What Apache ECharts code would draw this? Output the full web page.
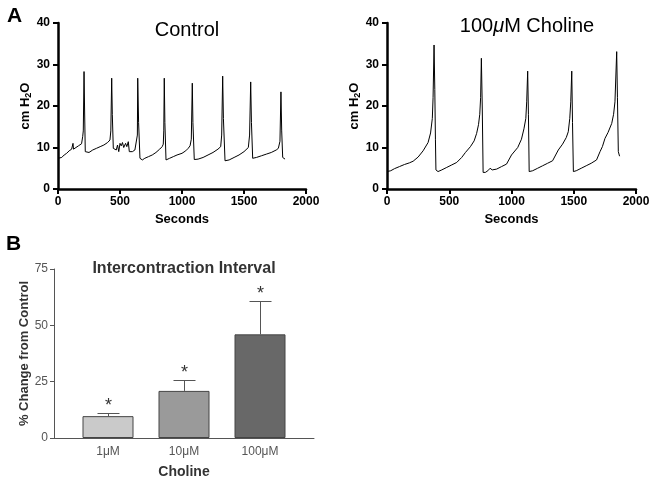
<!DOCTYPE html>
<html>
<head>
<meta charset="utf-8">
<script src="https://cdn.jsdelivr.net/npm/echarts@6/dist/echarts.min.js"></script>
<style>
html,body{margin:0;padding:0;background:#fff;}
#main{width:654px;height:482px;}
</style>
</head>
<body>
<div id="main"></div>
<script>
//=================================================================================
// A: bladder pressure traces (seconds, cm H2O)
var ctrlTime = [0,15,30,50,70,90,110,118,121,125,145,165,180,190,199,204,210,214,220,226,
	250,280,310,340,370,400,419,426,433,438,446,460,470,480,490,500,510,520,530,545,555,567,575,
	600,620,635,640,643,650,661,680,700,730,760,790,820,840,849,853,857,862,871,900,930,960,1000,
	1030,1050,1065,1075,1083,1088,1099,1130,1170,1210,1250,1290,1312,1320,1328,1334,1347,1380,1420,
	1460,1500,1535,1545,1554,1560,1570,1600,1640,1680,1720,1760,1777,1790,1798,1804,1812,1831];
var ctrlPressure = [7.4,7.8,7.6,8.2,8.6,9.2,9.6,9.4,11.0,9.6,10.0,10.4,10.6,10.9,12.6,14,28.3,20,9.0,8.6,
	8.8,9.4,9.8,10.2,10.6,11.2,11.8,14,26.7,18,9.8,10.2,9.4,10.6,9.0,11.0,10.4,11.2,10.0,11.0,10.2,11.4,9.0,
	9.0,9.4,9.2,13,26.7,16,7.4,7.0,7.4,7.8,8.2,8.8,9.6,10.2,10.8,14,26.7,16,7.0,7.4,7.8,8.2,8.6,
	9.2,9.8,10.4,12,25.5,16,7.1,7.2,7.6,8.2,8.8,9.6,10.2,13,27.2,17,6.8,7.0,7.6,
	8.2,9.0,10.0,13,25.8,16,7.4,7.6,8.0,8.4,8.8,9.4,9.8,11.5,23.4,14,7.6,7.2];

var cholTime = [0,30,60,100,140,180,210,250,290,330,350,364,370,378,384,389,393,410,440,480,520,560,
	600,630,670,700,720,735,745,752,758,765,772,790,810,828,845,881,920,960,1000,1050,1080,1100,1115,
	1122,1130,1136,1142,1170,1210,1250,1290,1330,1376,1410,1440,1456,1468,1476,1484,1490,1497,1520,1560,
	1600,1640,1683,1711,1730,1751,1775,1805,1820,1831,1845,1851,1858,1868];
var cholPressure = [4.2,4.4,4.9,5.4,5.9,6.3,6.7,7.7,9.2,11.2,13.5,17,22,34.7,24,12,4.6,4.2,4.6,5.2,5.8,6.4,
	7.6,8.8,10.2,11.6,13.4,15.5,18,22,31.5,20,4.0,4.0,4.4,5.0,4.6,4.8,5.4,6.0,8.2,10.0,12,14.5,17,
	21,28.4,18,4.2,4.4,5.0,5.6,6.2,6.8,9.4,10.8,12.4,13.8,17,21,28.4,16,4.2,4.4,5.0,
	5.6,6.2,7.0,9.0,10.2,12.2,13.6,15.8,18,21,33.1,22,9,7.9];

var secTicks = [0, 500, 1000, 1500, 2000];

// B: intercontraction interval, % change from control
var doses = ['1\u03bcM', '10\u03bcM', '100\u03bcM'];
var pctChange = [9.7, 20.9, 46.0];
var pctUpper = [11.1, 25.7, 60.7];
var barColors = ['#cacaca', '#9a9a9a', '#686868'];

//=================================================================================
function zip(a, b){
	var out = [];
	for(var i=0;i<a.length;i++){
		out.push([a[i], b[i]]);
	}
	return out;
}
function plain(v){
	return String(v);
}

var traceFont = 'Arial, "Liberation Sans", Helvetica, sans-serif';

// panel A axes (thick black, bold labels)
function secondsAxis(idx){
	return {
		type : 'value', gridIndex : idx, min : secTicks[0], max : secTicks[secTicks.length-1], interval : 500,
		name : 'Seconds', nameLocation : 'middle', nameGap : 24,
		nameTextStyle : {color:'#000', fontSize:13, fontWeight:'bold', fontFamily:traceFont},
		axisLine : {lineStyle:{color:'#000', width:2.5}},
		axisTick : {length:5, lineStyle:{color:'#000', width:2}},
		axisLabel : {color:'#000', fontSize:12, fontWeight:'bold', margin:7, fontFamily:traceFont, formatter:plain},
		splitLine : {show:false}
	};
}
function pressureAxis(idx){
	return {
		type : 'value', gridIndex : idx, min : 0, max : 40, interval : 10,
		name : 'cm H{sub|2}O', nameLocation : 'middle', nameGap : 23,
		nameTextStyle : {color:'#000', fontSize:13, fontWeight:'bold', fontFamily:traceFont,
			rich : {sub:{fontSize:9, fontWeight:'bold', color:'#000', verticalAlign:'bottom', padding:[6,0,0,0]}}},
		axisLine : {show:true, lineStyle:{color:'#000', width:2.5}},
		axisTick : {show:true, length:5, lineStyle:{color:'#000', width:2}},
		axisLabel : {color:'#000', fontSize:12, fontWeight:'bold', margin:8, fontFamily:traceFont, formatter:plain},
		splitLine : {show:false}
	};
}

var myChart = echarts.init(document.getElementById('main'));

myChart.setOption({
	animation : false,
	backgroundColor : '#fff',
	textStyle : {fontFamily:traceFont},
	title : [
		{text:'Control', left:187, top:20, textAlign:'center', padding:0,
			textStyle:{fontSize:20, fontWeight:'normal', color:'#000'}},
		{text:'100{mu|\u03bc}M Choline', left:527, top:16, textAlign:'center', padding:0,
			textStyle:{fontSize:20, fontWeight:'normal', color:'#000',
				rich:{mu:{fontSize:20, fontStyle:'italic', color:'#000'}}}},
		{text:'Intercontraction Interval', left:184, top:261, textAlign:'center', padding:0,
			textStyle:{fontSize:16, fontWeight:'bold', color:'#333'}}
	],
	graphic : [
		{type:'text', left:7, top:6, style:{text:'A', font:'bold 21px Arial, "Liberation Sans", sans-serif', fill:'#000'}},
		{type:'text', left:6, top:234, style:{text:'B', font:'bold 21px Arial, "Liberation Sans", sans-serif', fill:'#000'}}
	],
	grid : [
		{left:58, top:23, width:248, height:166},
		{left:387, top:23, width:249, height:166},
		{left:70, top:269, width:228, height:169},   // bars
		{left:54, top:269, width:260, height:169}    // B axes
	],
	xAxis : [
		secondsAxis(0),
		secondsAxis(1),
		{
			type : 'category', gridIndex : 2, data : doses,
			name : 'Choline', nameLocation : 'middle', nameGap : 27,
			nameTextStyle : {color:'#333', fontSize:14, fontWeight:'bold'},
			axisLine : {show:false}, axisTick : {show:false},
			axisLabel : {color:'#555', fontSize:12, margin:8}
		},
		{
			type : 'value', gridIndex : 3, min : 0, max : 1,
			axisLine : {lineStyle:{color:'#555', width:1}},
			axisTick : {show:false}, axisLabel : {show:false}, splitLine : {show:false}
		}
	],
	yAxis : [
		pressureAxis(0),
		pressureAxis(1),
		{type:'value', gridIndex:2, min:0, max:75, show:false},
		{
			type : 'value', gridIndex : 3, min : 0, max : 75, interval : 25,
			name : '% Change from Control', nameLocation : 'middle', nameGap : 23,
			nameTextStyle : {color:'#333', fontSize:13, fontWeight:'bold'},
			axisLine : {show:true, lineStyle:{color:'#555', width:1}},
			axisTick : {show:true, length:4, lineStyle:{color:'#555'}},
			axisLabel : {color:'#555', fontSize:12, margin:6},
			splitLine : {show:false}
		}
	],
	series : [
		{
			type : 'line', xAxisIndex : 0, yAxisIndex : 0, data : zip(ctrlTime, ctrlPressure),
			showSymbol : false, lineStyle : {color:'#000', width:1}
		},
		{
			type : 'line', xAxisIndex : 1, yAxisIndex : 1, data : zip(cholTime, cholPressure),
			showSymbol : false, lineStyle : {color:'#000', width:1}
		},
		{
			type : 'bar', xAxisIndex : 2, yAxisIndex : 2, barWidth : 51,
			data : pctChange.map(function(v, i){
				return {value:v, itemStyle:{color:barColors[i]}};
			}),
			itemStyle : {borderColor:'#444', borderWidth:1}
		},
		{
			// error bars with significance stars
			type : 'custom', xAxisIndex : 2, yAxisIndex : 2,
			data : pctChange.map(function(v, i){ return [i, v, pctUpper[i]]; }),
			renderItem : function(params, api){
				var base = api.coord([api.value(0), api.value(1)]);
				var top = api.coord([api.value(0), api.value(2)]);
				var x = Math.round(base[0]) + 0.5;
				var ln = {stroke:'#555', lineWidth:1};
				return {
					type : 'group',
					children : [
						{type:'line', shape:{x1:x, y1:base[1], x2:x, y2:top[1]}, style:ln},
						{type:'line', shape:{x1:x-11, y1:Math.round(top[1])+0.5, x2:x+11, y2:Math.round(top[1])+0.5}, style:ln},
						{type:'text', style:{text:'*', x:x, y:top[1]+2, textAlign:'center', textVerticalAlign:'bottom',
							font:'18px Arial, "Liberation Sans", sans-serif', fill:'#333'}}
					]
				};
			}
		}
	]
});
</script>
</body>
</html>
